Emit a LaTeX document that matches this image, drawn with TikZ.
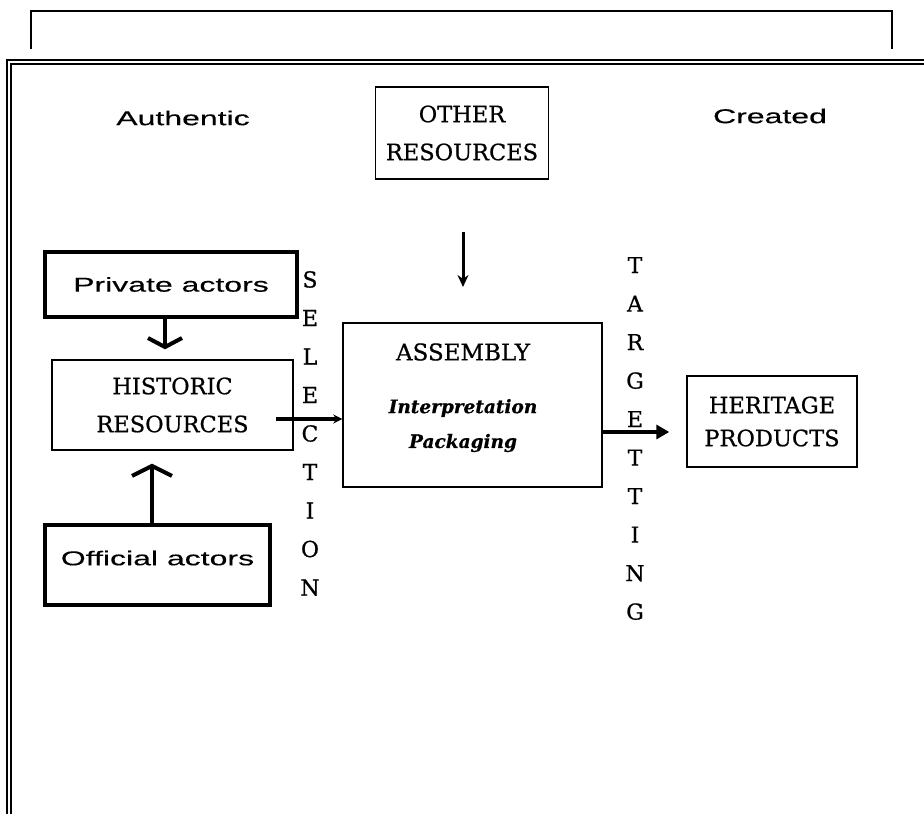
\documentclass[tikz,border=0pt]{standalone}
\usepackage{fontspec}
\setmainfont{DejaVu Serif}[FakeBold=0.7]
\newfontfamily\widesans[FakeStretch=1.6,FakeBold=0.3]{Liberation Sans}
\usepackage{tikz}
\usetikzlibrary{arrows.meta,calc}
\tikzset{
  sidelabel/.style={font=\widesans\fontsize{20}{24}\selectfont,inner sep=0pt},
  actorbox/.style={rectangle,draw,line width=4pt,
    font=\widesans\fontsize{20}{24}\selectfont,inner sep=0pt},
  resourcebox/.style={rectangle,draw,line width=1.4pt,align=center,
    font=\fontsize{22.5}{38}\selectfont,inner sep=0pt},
  vertword/.style={align=center,inner sep=0pt,
    font=\fontsize{22}{38.5}\selectfont},
  chevronarrow/.style={line width=4pt,-{Straight Barb[length=9pt,width=34pt]}},
  flowarrow/.style={line width=3.5pt,-{Stealth[length=9pt,width=9pt]}},
  boldarrow/.style={line width=4.5pt,-{Triangle[length=13pt,width=14pt]}}
}

\begin{document}
\begin{tikzpicture}[x=1pt,y=1pt]
  \useasboundingbox (0,0) rectangle (924,814);

  % page frame
  \draw[line width=1.3pt] (31,765)--(31,803)--(892,803)--(892,765);
  \draw[line width=2.2pt] (7,0)--(7,754)--(924,754);
  \draw[line width=1.2pt] (11,0)--(11,750)--(924,750);

  \node[sidelabel] (authentic) at (183,696) {Authentic};
  \node[sidelabel] (created) at (770,698) {Created};

  \node[resourcebox,minimum width=173,minimum height=92] (other)
    at (462,681) {OTHER\\RESOURCES};
  \node[actorbox,minimum width=252,minimum height=65] (private)
    at (171,529.5) {Private actors};
  \node[resourcebox,minimum width=241,minimum height=90] (historic)
    at (172.5,409) {HISTORIC\\RESOURCES};
  \node[actorbox,minimum width=225,minimum height=80,text depth=14pt] (official)
    at (157.5,249) {Official actors};
  \node[resourcebox,minimum width=259,minimum height=164] (assembly)
    at (472.5,409) {};
  \node[font=\fontsize{23}{26}\selectfont] (asmtitle) at (463,462) {ASSEMBLY};
  \node[font=\bfseries\itshape\fontsize{18.5}{20}\selectfont] (interp)
    at (463,406) {Interpretation};
  \node[font=\bfseries\itshape\fontsize{18.5}{20}\selectfont] (pack)
    at (463,371) {Packaging};
  \node[resourcebox,minimum width=170,minimum height=91,
    font=\fontsize{22.5}{33}\selectfont] (heritage)
    at (772,392.5) {HERITAGE\\PRODUCTS};

  \node[vertword] (selection) at (310,380.5)
    {S\\E\\L\\E\\C\\T\\I\\O\\N};
  \node[vertword] (targetting) at (635,375.5)
    {T\\A\\R\\G\\E\\T\\T\\I\\N\\G};

  \coordinate (othertop) at (463,582);
  \coordinate (otherend) at (463,527);
  \draw[line width=3pt,-{Stealth[length=12pt,width=11pt]}] (othertop) -- (otherend);

  \draw[chevronarrow] (private.south -| 165,0) -- ($(historic.north -| 165,0)+(0,10)$);
  \draw[chevronarrow,-{Straight Barb[length=10pt,width=40pt]}]
    (official.north -| 152,0) -- ($(historic.south -| 152,0)+(0,-13)$);
  \draw[flowarrow] ($(historic.east)+(-18,-14)$) -- ($(assembly.west)+(0,-14)$);
  \draw[boldarrow] ($(assembly.east)+(0,-27)$) -- ($(heritage.west)+(-17,-10.5)$);
\end{tikzpicture}
\end{document}
